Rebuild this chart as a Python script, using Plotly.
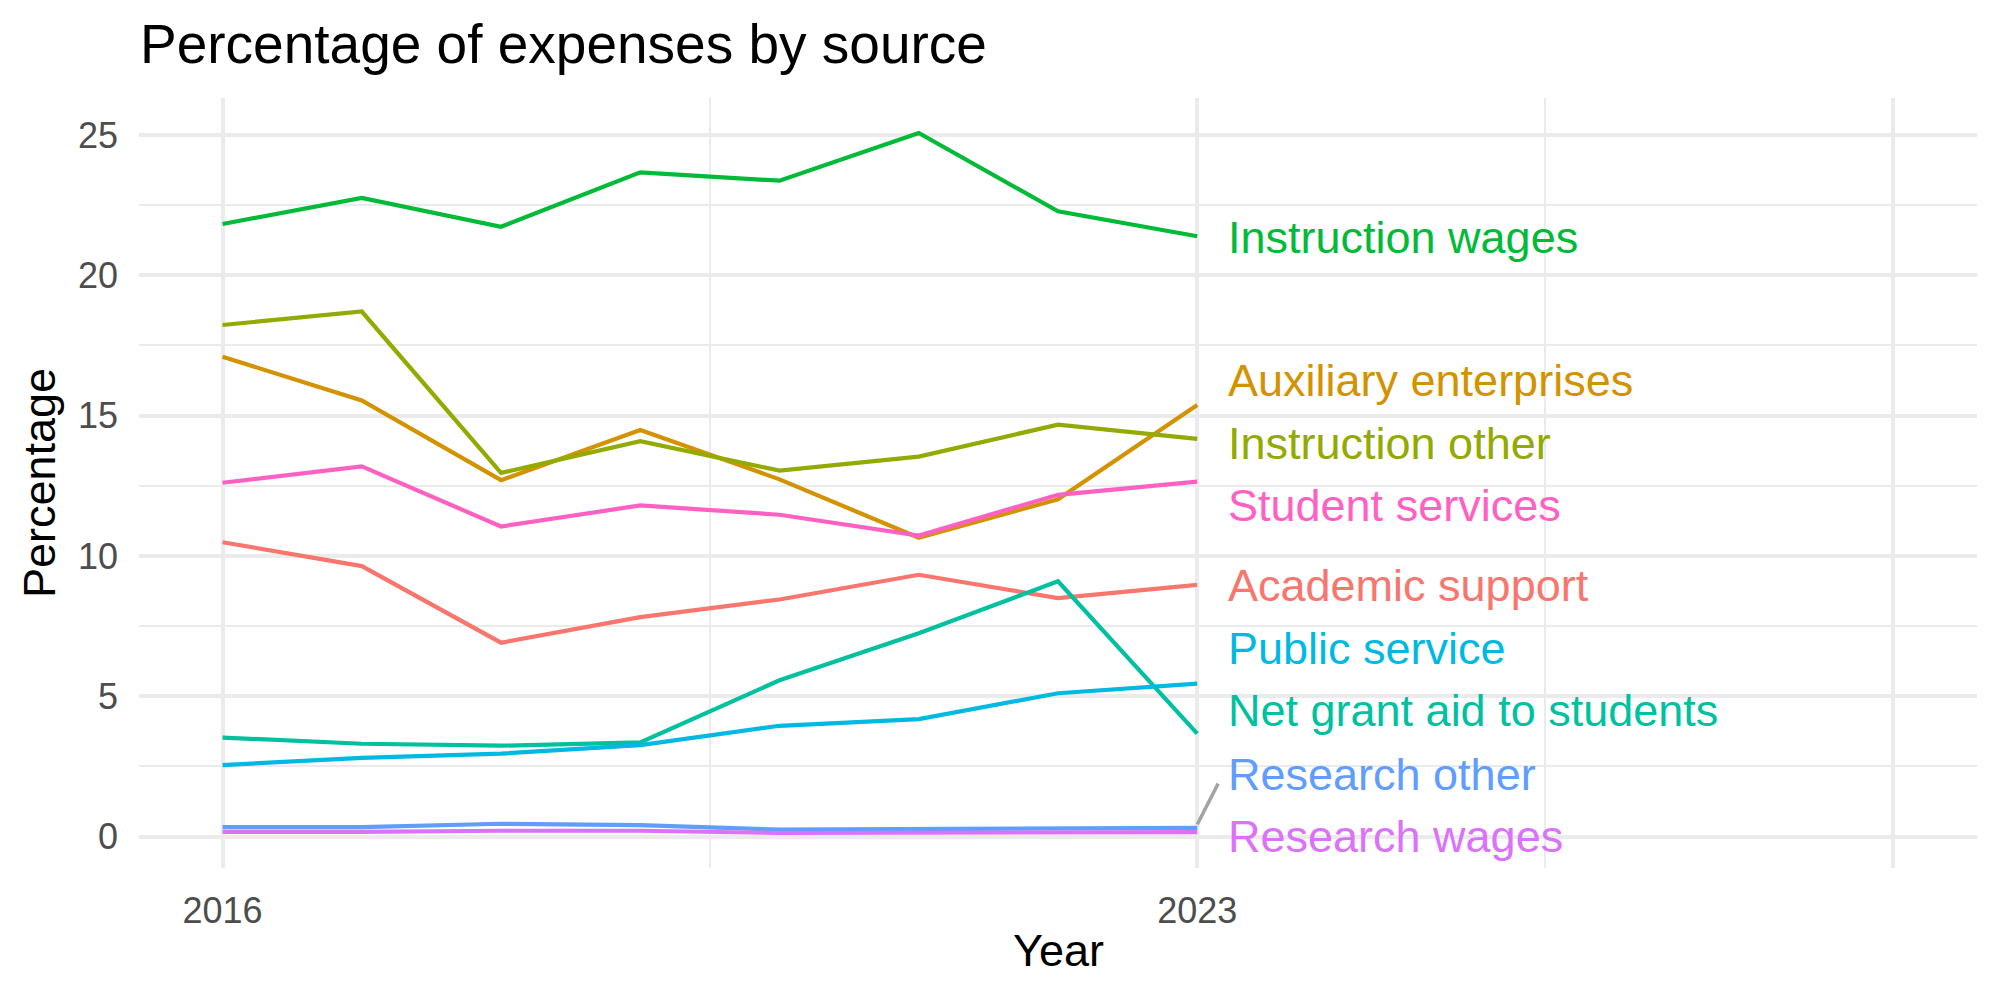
import plotly.graph_objects as go

years = [2016, 2017, 2018, 2019, 2020, 2021, 2022, 2023]

categories = [
    "Academic support",
    "Auxiliary enterprises",
    "Instruction other",
    "Instruction wages",
    "Net grant aid to students",
    "Public service",
    "Research other",
    "Research wages",
    "Student services",
]

academic_support = [10.49, 9.64, 6.91, 7.82, 8.45, 9.33, 8.50, 8.97]
auxiliary_enterprises = [17.10, 15.54, 12.70, 14.49, 12.73, 10.65, 12.02, 15.38]
instruction_other = [18.23, 18.71, 12.96, 14.09, 13.04, 13.54, 14.68, 14.17]
instruction_wages = [21.83, 22.76, 21.73, 23.67, 23.37, 25.07, 22.28, 21.39]
net_grant_aid = [3.53, 3.31, 3.24, 3.36, 5.57, 7.25, 9.10, 3.67]
public_service = [2.55, 2.81, 2.96, 3.26, 3.95, 4.19, 5.11, 5.45]
research_other = [0.34, 0.34, 0.46, 0.41, 0.25, 0.27, 0.26, 0.31]
research_wages = [0.17, 0.17, 0.21, 0.21, 0.13, 0.13, 0.13, 0.16]
student_services = [12.61, 13.19, 11.05, 11.80, 11.47, 10.73, 12.18, 12.65]

series = [
    academic_support, auxiliary_enterprises, instruction_other, instruction_wages,
    net_grant_aid, public_service, research_other, research_wages, student_services,
]

colors = ["#F8766D", "#D39200", "#93AA00", "#00BA38", "#00C19F",
          "#00B9E3", "#619CFF", "#DB72FB", "#FF61C3"]

# repelled label positions (y, data units)
label_y = [8.95, 16.25, 14.02, 21.33, 4.48, 6.72, 2.23, -0.01, 11.79]
label_x = 2023.21

fig = go.Figure()
for name, vals, col in zip(categories, series, colors):
    fig.add_trace(go.Scatter(x=years, y=vals, mode="lines", name=name,
                             line=dict(color=col, width=4.2), hoverinfo="name+x+y"))

# connector segment for the label that was pushed away from its end point
for name, vals, ly in zip(categories, series, label_y):
    if abs(vals[-1] - ly) > 1.5:
        fig.add_trace(go.Scatter(x=[years[-1], label_x - 0.06], y=[vals[-1] + 0.12, ly - 0.34],
                                 mode="lines", line=dict(color="#A3A3A3", width=3.5),
                                 hoverinfo="skip", showlegend=False))

annotations = []
for name, col, ly in zip(categories, colors, label_y):
    annotations.append(dict(x=label_x, y=ly, xref="x", yref="y", text=name,
                            showarrow=False, xanchor="left", yanchor="middle",
                            font=dict(family="Liberation Sans, Arial", size=45, color=col)))

annotations.append(dict(x=-0.0544, y=0.5, xref="paper", yref="paper", text="Percentage",
                        textangle=-90, showarrow=False, xanchor="center", yanchor="middle",
                        font=dict(family="Liberation Sans, Arial", size=45, color="black")))
annotations.append(dict(x=0.5, y=-0.1065, xref="paper", yref="paper", text="Year",
                        showarrow=False, xanchor="center", yanchor="middle",
                        font=dict(family="Liberation Sans, Arial", size=45, color="black")))

fig.update_layout(
    width=2000, height=1000,
    margin=dict(l=139, r=23, t=98, b=132),
    plot_bgcolor="white", paper_bgcolor="white",
    showlegend=False,
    title=dict(text="Percentage of expenses by source", x=140 / 2000, xref="container",
               xanchor="left", y=0.956, yref="container", yanchor="middle",
               font=dict(family="Liberation Sans, Arial", size=55, color="black")),
    annotations=annotations,
    xaxis=dict(range=[2015.4, 2028.6], tickmode="array", tickvals=[2016, 2023, 2028],
               ticktext=["2016", "2023", ""], showgrid=True, gridcolor="#EBEBEB", gridwidth=4,
               zeroline=False, showline=False, ticks="", ticklabelstandoff=18,
               tickfont=dict(family="Liberation Sans, Arial", size=36, color="#4D4D4D"),
               minor=dict(tickmode="array", tickvals=[2019.5, 2025.5], showgrid=True,
                          gridcolor="#EBEBEB", gridwidth=2, ticks="")),
    yaxis=dict(range=[-1.117, 26.317], tickmode="array", tickvals=[0, 5, 10, 15, 20, 25],
               showgrid=True, gridcolor="#EBEBEB", gridwidth=4, zeroline=False, showline=False,
               ticks="", ticklabelstandoff=20,
               tickfont=dict(family="Liberation Sans, Arial", size=36, color="#4D4D4D"),
               minor=dict(tickmode="array", tickvals=[2.5, 7.5, 12.5, 17.5, 22.5], showgrid=True,
                          gridcolor="#EBEBEB", gridwidth=2, ticks="")),
)

fig.write_html("out.html")
